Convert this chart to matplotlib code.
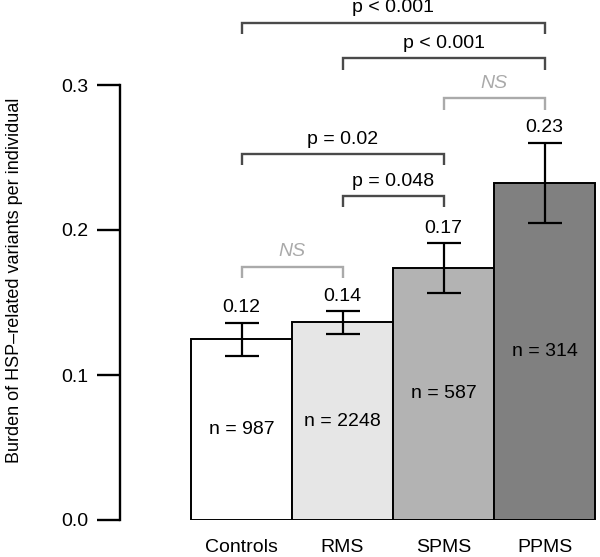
import matplotlib
matplotlib.use("Agg")
import matplotlib.pyplot as plt

plt.rcParams['font.family'] = ['Liberation Sans', 'DejaVu Sans']

categories = ["Controls", "RMS", "SPMS", "PPMS"]
means = [0.1246, 0.1363, 0.1740, 0.2326]
err_low = [0.1131, 0.1283, 0.1568, 0.2050]
err_high = [0.1361, 0.1441, 0.1908, 0.2602]
value_labels = ["0.12", "0.14", "0.17", "0.23"]
n_labels = ["n = 987", "n = 2248", "n = 587", "n = 314"]
bar_colors = ["#ffffff", "#e6e6e6", "#b3b3b3", "#808080"]

# comparisons: (left index, right index, bracket height, label, significant)
comp_left = [0, 1, 0, 2, 1, 0]
comp_right = [1, 2, 2, 3, 3, 3]
comp_height = [0.1747, 0.2234, 0.2524, 0.2908, 0.3184, 0.3430]
comp_label = ["NS", "p = 0.048", "p = 0.02", "NS", "p < 0.001", "p < 0.001"]
comp_sig = [False, True, True, False, True, True]

yticks = [0.0, 0.1, 0.2, 0.3]
ytick_labels = ["0.0", "0.1", "0.2", "0.3"]

fig = plt.figure(figsize=(6.0, 5.57), dpi=100)
ax = fig.add_axes([0.2, 37 / 557, 0.8, 520 / 557])
ax.set_xlim(-1.203, 3.549)
ax.set_ylim(0, 520 / 1450)

x = list(range(len(categories)))
ax.bar(x, means, width=1.0, color=bar_colors, edgecolor="black", linewidth=1.4, zorder=2)

yerr = [[m - lo for m, lo in zip(means, err_low)], [hi - m for m, hi in zip(means, err_high)]]
ax.errorbar(x, means, yerr=yerr, fmt="none", ecolor="black", elinewidth=1.6,
            capsize=12, capthick=1.6, zorder=3)

fs = 14
for xi, hi, lab in zip(x, err_high, value_labels):
    ax.text(xi, hi + 0.0103, lab, ha="center", va="center", fontsize=fs)

for xi, m, lab in zip(x, means, n_labels):
    ax.text(xi, m / 2, lab, ha="center", va="center", fontsize=fs)

tip = 0.0078
for l, r, h, lab, sig in zip(comp_left, comp_right, comp_height, comp_label, comp_sig):
    col = "#4a4a4a" if sig else "#aaaaaa"
    ax.plot([l, l, r, r], [h - tip, h, h, h - tip], color=col, lw=1.7,
            solid_capstyle="butt", solid_joinstyle="miter", clip_on=False)
    ax.text((l + r) / 2, h + 0.0103, lab, ha="center", va="center", fontsize=fs,
            color="black" if sig else "#aaaaaa", style="normal" if sig else "italic")

for s in ["top", "right", "bottom"]:
    ax.spines[s].set_visible(False)
ax.spines["left"].set_bounds(0, 0.3)
ax.spines["left"].set_linewidth(1.7)
ax.set_yticks(yticks)
ax.set_yticklabels(ytick_labels, fontsize=fs)
ax.tick_params(axis="y", length=16.5, width=1.7, pad=6)
ax.set_xticks(x)
ax.set_xticklabels(categories, fontsize=fs)
ax.tick_params(axis="x", length=0, pad=14)

fig.text(15 / 600, 1 - 280 / 557, "Burden of HSP\u2013related variants per individual",
         rotation=90, ha="center", va="center", fontsize=13)

fig.savefig("out.png", dpi=100)
